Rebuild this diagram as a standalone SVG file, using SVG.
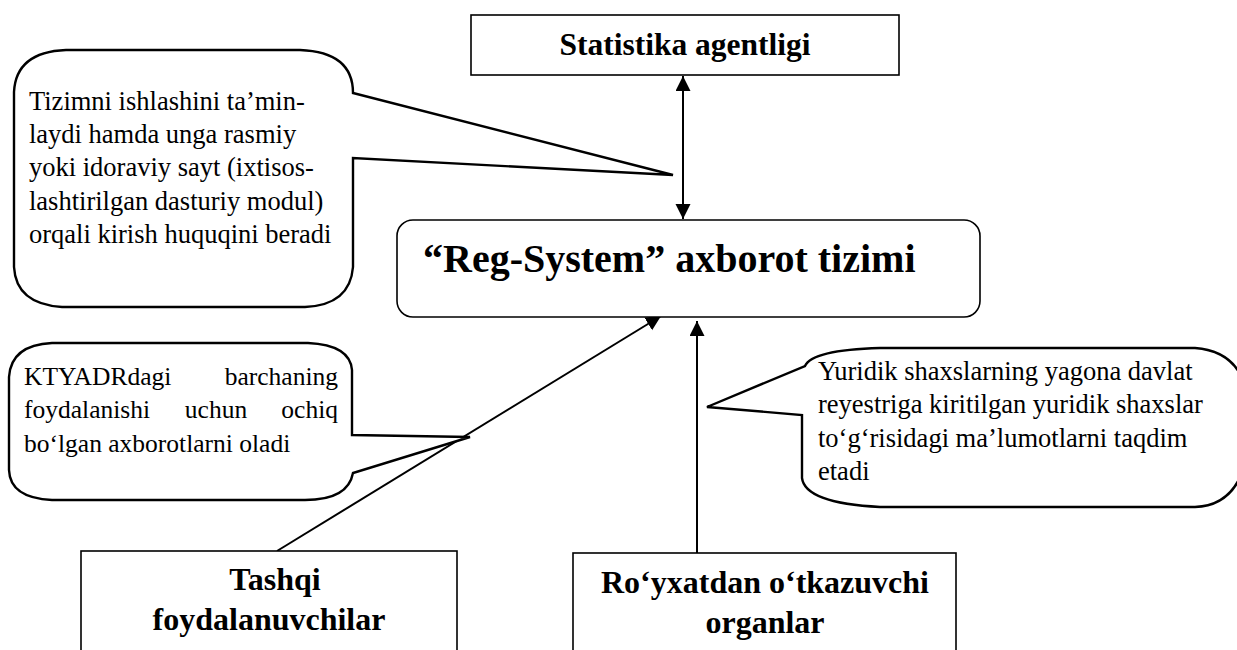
<svg xmlns="http://www.w3.org/2000/svg" width="1237" height="650" viewBox="0 0 1237 650">
<defs>
<marker id="ah" markerWidth="16" markerHeight="16" refX="15" refY="7.5" orient="auto-start-reverse" markerUnits="userSpaceOnUse">
<path d="M0,0 L15,7.5 L0,15 Z" fill="#000"/>
</marker>
</defs>
<style>
.box{fill:#fff;stroke:#000;stroke-width:1.6}
.call{fill:#fff;stroke:#000;stroke-width:2.4;stroke-linejoin:miter}
.con{stroke:#000;stroke-width:2;fill:none}
</style>
<rect width="1237" height="650" fill="#fff"/>
<g id="connectors">
<line class="con" x1="683" y1="76" x2="683" y2="219" marker-start="url(#ah)" marker-end="url(#ah)"/>
<line class="con" x1="277" y1="551" x2="661" y2="316" marker-end="url(#ah)"/>
<line class="con" x1="697" y1="553" x2="697" y2="321" marker-end="url(#ah)"/>
</g>
<g font-family="'Liberation Serif', 'Times New Roman', 'DejaVu Serif', serif" fill="#000">
<g id="statistika">
<rect class="box" x="471" y="15" width="428" height="60" stroke="#333"/>
<text x="685" y="55" font-size="31.5" font-weight="bold" text-anchor="middle">Statistika agentligi</text>
</g>
<g id="regsystem">
<rect class="box" x="397" y="220" width="583" height="97" rx="16" stroke-width="2"/>
<text x="423" y="272" font-size="40" font-weight="bold">“Reg-System” axborot tizimi</text>
</g>
<g id="callout1" font-size="26.5">
<path class="call" d="M66,50 L300,50 Q353,52 353,93 L673,175 L353,158 L353,267 Q350,305 305,307 L62,307 Q16,304 14,267 L14,92 Q16,52 66,50 Z"/>
<text x="29" y="110">Tizimni ishlashini ta’min-</text>
<text x="29" y="143">laydi hamda unga rasmiy</text>
<text x="29" y="176">yoki idoraviy sayt (ixtisos-</text>
<text x="29" y="210">lashtirilgan dasturiy modul)</text>
<text x="29" y="243">orqali kirish huquqini beradi</text>
</g>
<g id="callout2" font-size="25.5">
<path class="call" d="M52,343 L308,343 Q350,345 352,370 L352,435 L470,437 L353,473 Q348,500 305,500 L52,500 Q10,498 9,470 L9,377 Q11,345 52,343 Z"/>
<text x="24" y="385">KTYADRdagi</text>
<text x="338" y="385" text-anchor="end">barchaning</text>
<text x="24" y="418">foydalanishi</text>
<text x="216" y="418" text-anchor="middle">uchun</text>
<text x="338" y="418" text-anchor="end">ochiq</text>
<text x="24" y="452">bo‘lgan axborotlarni oladi</text>
</g>
<g id="callout3" font-size="26.5">
<path class="call" d="M880,348 L1195,348 Q1250,352 1250,420 Q1250,505 1195,507 L880,507 Q805,503 802,478 L802,415 L707,407 L805,366 Q812,350 880,348 Z"/>
<text x="818" y="380">Yuridik shaxslarning yagona davlat</text>
<text x="818" y="413">reyestriga kiritilgan yuridik shaxslar</text>
<text x="818" y="447">to‘g‘risidagi ma’lumotlarni taqdim</text>
<text x="818" y="480">etadi</text>
</g>
<g id="tashqi" font-size="32" font-weight="bold">
<rect class="box" x="81" y="551" width="376" height="110"/>
<text x="275" y="590" text-anchor="middle">Tashqi</text>
<text x="269" y="630" text-anchor="middle">foydalanuvchilar</text>
</g>
<g id="royxat" font-size="32" font-weight="bold">
<rect class="box" x="573" y="553" width="383" height="110"/>
<text x="765" y="593" text-anchor="middle">Ro‘yxatdan o‘tkazuvchi</text>
<text x="765" y="633" text-anchor="middle">organlar</text>
</g>
</g>
</svg>
